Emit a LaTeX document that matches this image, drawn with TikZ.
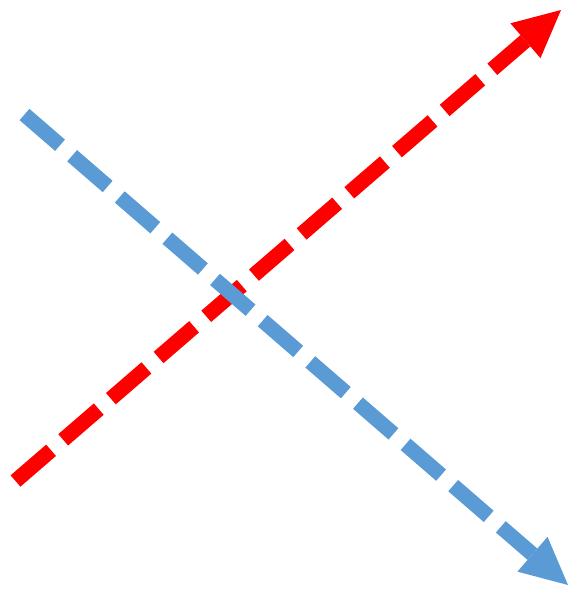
\documentclass[tikz,border=0pt]{standalone}
\usetikzlibrary{arrows.meta}
\definecolor{crossblue}{RGB}{91,155,213}
\tikzset{
  dashedarrow/.style={line width=15pt, dash pattern=on 47pt off 16pt,
    -{Triangle[length=47pt, width=46pt, line width=0pt]}}
}
\begin{document}
\begin{tikzpicture}[x=1pt, y=-1pt]
			\useasboundingbox (0, 0) rectangle (570, 589);
			
			% End points
			\coordinate (redstart) at (15.5, 481);
			\coordinate (redtip) at (561, 10);
			\coordinate (bluestart) at (24.5, 114.5);
			\coordinate (bluetip) at (568, 585);
			
			% Arrows (blue on top)
			\draw[dashedarrow, red] (redstart) -- (redtip);
			\draw[dashedarrow, crossblue] (bluestart) -- (bluetip);
		\end{tikzpicture}
\end{document}
